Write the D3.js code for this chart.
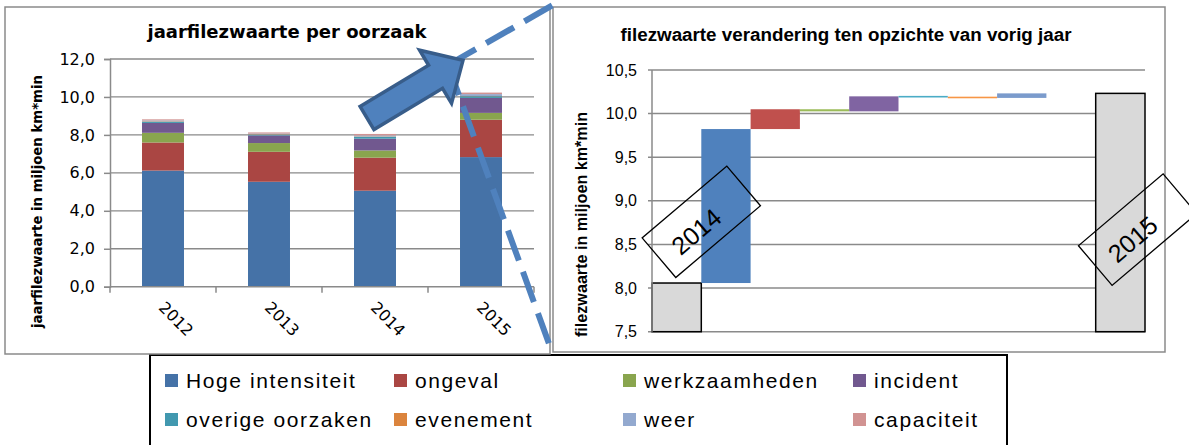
<!DOCTYPE html>
<html>
<head>
<meta charset="utf-8">
<script src="https://cdn.jsdelivr.net/npm/d3@7"></script>
<style>
  body { margin: 0; background: #fff; }
  svg { display: block; }
</style>
</head>
<body>
<div id="chart"></div>
<script>
var width = 1189;
var height = 445;

// data (miljoen km*min)
var years = ["2012", "2013", "2014", "2015"];
var causes = ["Hoge intensiteit", "ongeval", "werkzaamheden", "incident",
  "overige oorzaken", "evenement", "weer", "capaciteit"];
var hogeIntensiteit = [6.12, 5.53, 5.06, 6.83];
var ongeval = [1.48, 1.58, 1.74, 1.97];
var werkzaamheden = [0.51, 0.46, 0.38, 0.36];
var incident = [0.52, 0.40, 0.62, 0.79];
var overigeOorzaken = [0.07, 0.05, 0.10, 0.09];
var evenement = [0.02, 0.02, 0.02, 0.01];
var weer = [0.04, 0.03, 0.05, 0.10];
var capaciteit = [0.06, 0.06, 0.08, 0.08];
var leftTicks = [0, 2, 4, 6, 8, 10, 12];

// waterfall 2014 -> 2015
var wfTotals = [8.058, 10.232];
var wfDeltas = [1.765, 0.227, -0.024, 0.172, -0.008, -0.01, 0.052, 0];
var rightTicks = [7.5, 8, 8.5, 9, 9.5, 10, 10.5];

var leftColors = ["#4572a7", "#aa4643", "#89a54e", "#71588f", "#4198af", "#db843d", "#93a9cf", "#d19392"];
var rightColors = ["#4f81bd", "#c0504d", "#9bbb59", "#8064a2", "#4bacc6", "#f79646", "#7b9bcc", "#d99694"];

var fmt = d3.formatLocale({ decimal: ",", thousands: ".", grouping: [3], currency: ["", ""] }).format(".1f");
var gridColor = "#8a8a8a";

var svg = d3.select("#chart").append("svg")
  .attr("width", width)
  .attr("height", height);

// ---------- legend box (behind frames)
svg.append("rect")
  .attr("x", 150).attr("y", 355)
  .attr("width", 857).attr("height", 100)
  .attr("fill", "#fff").attr("stroke", "#000").attr("stroke-width", 2);

// ---------- left chart: stacked bars
var left = svg.append("g");
left.append("rect")
  .attr("x", 5).attr("y", 7).attr("width", 545).attr("height", 347)
  .attr("fill", "none").attr("stroke", gridColor).attr("stroke-width", 1.5);

var seriesValues = [hogeIntensiteit, ongeval, werkzaamheden, incident,
  overigeOorzaken, evenement, weer, capaciteit];
var rows = years.map(function(y, i) {
  var r = { year: y };
  causes.forEach(function(c, j) { r[c] = seriesValues[j][i]; });
  return r;
});
var stacked = d3.stack().keys(causes)(rows);

var xL = d3.scaleBand().domain(years).range([110, 534])
  .paddingInner(0.604).paddingOuter(0.302);
var yL = d3.scaleLinear().domain([0, 12]).range([286.7, 59]);

left.selectAll(".gridL").data(leftTicks.slice(1)).enter().append("line")
  .attr("x1", 110).attr("x2", 534)
  .attr("y1", function(d) { return yL(d); }).attr("y2", function(d) { return yL(d); })
  .attr("stroke", gridColor).attr("stroke-width", 1.3);

left.selectAll(".series").data(stacked).enter().append("g")
  .attr("fill", function(d, i) { return leftColors[i]; })
  .selectAll("rect").data(function(d) { return d; }).enter().append("rect")
  .attr("x", function(d) { return xL(d.data.year); })
  .attr("width", xL.bandwidth())
  .attr("y", function(d) { return yL(d[1]); })
  .attr("height", function(d) { return yL(d[0]) - yL(d[1]); });

var axL = left.append("g").attr("transform", "translate(110,0)")
  .call(d3.axisLeft(yL).tickValues(leftTicks).tickFormat(fmt).tickSize(6).tickPadding(9));
axL.selectAll("path, line").attr("stroke", gridColor).attr("stroke-width", 1.5);
axL.selectAll("text").attr("font-family", "DejaVu Sans").attr("font-size", 16).attr("fill", "#000");

// x axis line and ticks at band edges
left.append("line").attr("x1", 110).attr("x2", 534).attr("y1", yL(0)).attr("y2", yL(0))
  .attr("stroke", gridColor).attr("stroke-width", 1.5);
var edges = years.map(function(y) { return xL(y) - xL.step() * 0.302; }).concat([534]);
left.selectAll(".tickX").data(edges).enter().append("line")
  .attr("x1", function(d) { return d; }).attr("x2", function(d) { return d; })
  .attr("y1", yL(0)).attr("y2", yL(0) + 6)
  .attr("stroke", gridColor).attr("stroke-width", 1.5);

left.selectAll(".xlab").data(years).enter().append("text")
  .attr("transform", function(d) {
    return "translate(" + (xL(d) + xL.bandwidth() / 2 + 13) + ",319) rotate(45)";
  })
  .attr("text-anchor", "middle").attr("dominant-baseline", "central")
  .attr("font-family", "DejaVu Sans").attr("font-size", 16)
  .text(function(d) { return d; });

left.append("text")
  .attr("x", 287).attr("y", 38).attr("text-anchor", "middle")
  .attr("font-family", "DejaVu Sans").attr("font-weight", "bold").attr("font-size", 18)
  .text("jaarfilezwaarte per oorzaak");

left.append("text")
  .attr("transform", "translate(42,201.5) rotate(-90)")
  .attr("text-anchor", "middle")
  .attr("font-family", "DejaVu Sans").attr("font-weight", "bold").attr("font-size", 13.3)
  .text("jaarfilezwaarte in miljoen km*min");

// ---------- right chart: waterfall
var right = svg.append("g");
right.append("rect")
  .attr("x", 553).attr("y", 7).attr("width", 612).attr("height", 345)
  .attr("fill", "#fff").attr("stroke", gridColor).attr("stroke-width", 1.5);

var wfLabels = ["2014"].concat(causes, ["2015"]);
var xR = d3.scaleBand().domain(wfLabels).range([652, 1145]);
var yR = d3.scaleLinear().domain([7.5, 10.5]).range([331.7, 70]);

right.selectAll(".gridR").data(rightTicks).enter().append("line")
  .attr("x1", 648).attr("x2", 1145)
  .attr("y1", function(d) { return yR(d); }).attr("y2", function(d) { return yR(d); })
  .attr("stroke", gridColor).attr("stroke-width", 1.5);

var steps = [];
var cum = wfTotals[0];
steps.push({ label: "2014", lo: 7.5, hi: wfTotals[0], color: "#d9d9d9", total: true });
wfDeltas.forEach(function(d, i) {
  steps.push({ label: causes[i], lo: Math.min(cum, cum + d), hi: Math.max(cum, cum + d),
    color: rightColors[i], total: false, zero: d === 0 });
  cum += d;
});
steps.push({ label: "2015", lo: 7.5, hi: wfTotals[1], color: "#d9d9d9", total: true });

right.selectAll(".wf").data(steps.filter(function(d) { return !d.zero; })).enter().append("rect")
  .attr("x", function(d) { return xR(d.label); })
  .attr("width", xR.bandwidth())
  .attr("y", function(d) {
    var h = yR(d.lo) - yR(d.hi);
    return h < 1.6 ? (yR(d.lo) + yR(d.hi)) / 2 - 0.8 : yR(d.hi);
  })
  .attr("height", function(d) { return Math.max(1.6, yR(d.lo) - yR(d.hi)); })
  .attr("fill", function(d) { return d.color; })
  .attr("stroke", function(d) { return d.total ? "#000" : "none"; })
  .attr("stroke-width", 1.5);

right.append("line").attr("x1", 652).attr("x2", 652).attr("y1", yR(10.5)).attr("y2", yR(7.5))
  .attr("stroke", gridColor).attr("stroke-width", 1.5);

right.selectAll(".ylabR").data(rightTicks).enter().append("text")
  .attr("x", 637).attr("y", function(d) { return yR(d); })
  .attr("dy", "0.35em").attr("text-anchor", "end")
  .attr("font-family", "Liberation Sans").attr("font-size", 16)
  .text(function(d) { return fmt(d); });

right.append("text")
  .attr("x", 846).attr("y", 41).attr("text-anchor", "middle")
  .attr("font-family", "Liberation Sans").attr("font-weight", "bold").attr("font-size", 18)
  .attr("textLength", 451).attr("lengthAdjust", "spacingAndGlyphs")
  .text("filezwaarte verandering ten opzichte van vorig jaar");

right.append("text")
  .attr("transform", "translate(587,224.5) rotate(-90)")
  .attr("text-anchor", "middle")
  .attr("font-family", "Liberation Sans").attr("font-weight", "bold").attr("font-size", 16)
  .attr("textLength", 225).attr("lengthAdjust", "spacingAndGlyphs")
  .text("filezwaarte in miljoen km*min");

// rotated year boxes
var yearBoxes = [
  { text: "2014", cx: xR("2014") + xR.bandwidth(), cy: yR(8.76) },
  { text: "2015", cx: xR("2015") + xR.bandwidth() * 0.85, cy: yR(8.67) }
];
var boxG = right.selectAll(".ybox").data(yearBoxes).enter().append("g")
  .attr("transform", function(d) { return "translate(" + d.cx + "," + d.cy + ") rotate(-40.3)"; });
boxG.append("rect")
  .attr("x", -55.5).attr("y", -26).attr("width", 111).attr("height", 52)
  .attr("fill", "none").attr("stroke", "#000").attr("stroke-width", 1.3);
boxG.append("text")
  .attr("x", -10).attr("y", 4).attr("text-anchor", "middle").attr("dominant-baseline", "central")
  .attr("font-family", "Liberation Sans").attr("font-size", 25)
  .text(function(d) { return d.text; });

// ---------- legend entries
var legendX = [165, 394, 623, 853];
var legendY = [374, 413];
var leg = svg.selectAll(".leg").data(causes).enter().append("g")
  .attr("transform", function(d, i) {
    return "translate(" + legendX[i % 4] + "," + legendY[Math.floor(i / 4)] + ")";
  });
leg.append("rect").attr("width", 13).attr("height", 13)
  .attr("fill", function(d, i) { return leftColors[i]; });
leg.append("text")
  .attr("x", 21).attr("y", 14)
  .attr("font-family", "Liberation Sans").attr("font-size", 21)
  .attr("letter-spacing", 1.6)
  .text(function(d) { return d; });

// ---------- zoom callout: dashed lines + block arrow
var callout = svg.append("g")
  .attr("stroke", "#4f81bd").attr("stroke-width", 6)
  .attr("stroke-dasharray", "32,12").attr("fill", "none");
callout.append("line").attr("x1", 448).attr("y1", 65).attr("x2", 553).attr("y2", 5);
callout.append("line").attr("x1", 448).attr("y1", 65).attr("x2", 552).attr("y2", 352);

svg.append("path")
  .attr("transform", "translate(367,118) rotate(-31)")
  .attr("d", "M0,-13.5 L80,-13.5 L80,-31 L112,0 L80,31 L80,13.5 L0,13.5 Z")
  .attr("fill", "#4f81bd").attr("stroke", "#385d8a").attr("stroke-width", 3.5)
  .attr("stroke-linejoin", "miter");
</script>
</body>
</html>
